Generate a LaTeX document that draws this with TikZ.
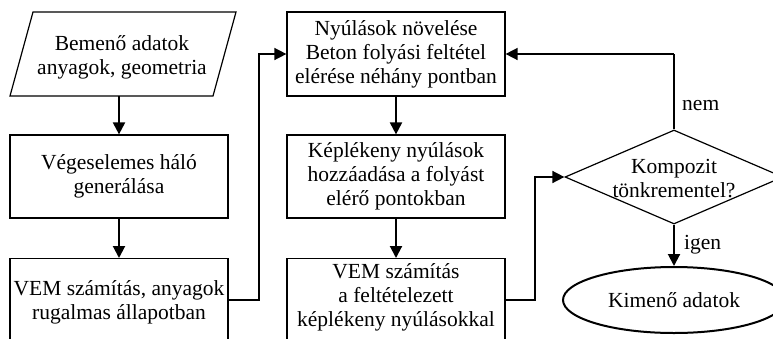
\documentclass[tikz,border=0pt]{standalone}
\usepackage{fontspec}
\setmainfont{Liberation Serif}
\usetikzlibrary{arrows.meta,shapes.geometric}
\begin{document}
\begin{tikzpicture}[x=1pt,y=-1pt,
  box/.style={draw,line width=1.2pt,minimum width=218pt,minimum height=83pt,inner sep=0pt,align=center},
  txt/.style={align=center,inner sep=0pt},
  arr/.style={line width=2pt,-{Triangle[length=12pt,width=12pt]}},
  con/.style={line width=1.5pt,-{Triangle[length=12pt,width=12pt]}},
  font=\fontsize{21.5}{24}\selectfont]
\useasboundingbox (0,0) rectangle (773,338);
% left column
\node[txt] (in) at (122,57) {Bemenő adatok\\anyagok, geometria};
\draw[line width=1.2pt] (10,96) -- (33,12) -- (236,12) -- (213,96) -- cycle;
\coordinate (inb) at (119,96);
\node[box] (b2) at (119,176.5) {Végeselemes háló\\generálása};
\node[box,minimum height=110pt,anchor=north] (b3) at (119,258) {};
\node[txt] (t3) at (119,302) {VEM számítás, anyagok\\rugalmas állapotban};
% middle column
\node[box,minimum height=84pt] (m1) at (396,54) {Nyúlások növelése\\Beton folyási feltétel\\elérése néhány pontban};
\node[box] (m2) at (396,176.5) {Képlékeny nyúlások\\hozzáadása a folyást\\elérő pontokban};
\node[box,minimum height=110pt,anchor=north] (m3) at (396,258) {};
\node[txt] (t6) at (396,297) {VEM számítás\\a feltételezett\\képlékeny nyúlásokkal};
% right column
\node[draw,diamond,line width=1.2pt,minimum width=218pt,minimum height=94pt,inner sep=0pt] (d) at (674,177) {};
\node[txt] (dt) at (674,179) {Kompozit\\tönkrementel?};
\node[draw,ellipse,line width=2pt,minimum width=222pt,minimum height=66pt,inner sep=0pt] (e) at (674,300) {Kimenő adatok};
% connectors
\draw[arr] (inb) -- (b2);
\draw[arr] (b2) -- (b3);
\draw[arr] (m1) -- (m2);
\draw[arr] (m2) -- (m3);
\draw[con] (b3.east |- 0,300) -- (259,300) -- (259,54) -- (m1.west);
\draw[con] (m3.east |- 0,300) -- (535,300) -- (535,177) -- (d.west);
\draw[line width=1.2pt] (d.north) -- (674,54);
\draw[con] (674,54) -- (m1.east);
\draw[arr] (d.south) -- (e.north);
\node[txt,anchor=west] (nem) at (682,106) {nem};
\node[txt,anchor=west] (igen) at (684,245) {igen};
\end{tikzpicture}
\end{document}
